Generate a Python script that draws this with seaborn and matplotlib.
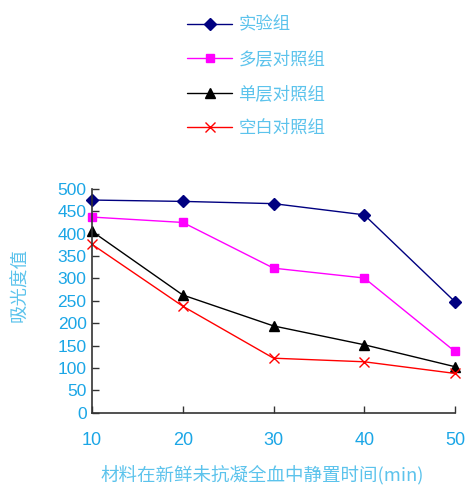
import matplotlib
matplotlib.use("Agg")
import matplotlib.pyplot as plt
import pandas as pd
import seaborn as sns

times = [10, 20, 30, 40, 50]
series_names = ["实验组", "多层对照组", "单层对照组", "空白对照组"]
experiment = [475, 472, 467, 442, 248]
multi_layer = [437, 425, 323, 301, 137]
single_layer = [405, 263, 194, 152, 103]
blank = [376, 238, 122, 114, 88]

colors = ["#000080", "#ff00ff", "#000000", "#ff0000"]
markers = ["D", "s", "^", "x"]
tick_blue = "#1ba6e6"
label_blue = "#5cc3ec"

sns.set_style("white")
plt.rcParams["font.family"] = ["Noto Sans CJK SC", "DejaVu Sans"]

fig = plt.figure(figsize=(4.7, 4.88), dpi=100)
ax = fig.add_axes([0.196, 0.154, 0.772, 0.459])

for name, vals, c, m in zip(series_names, [experiment, multi_layer, single_layer, blank], colors, markers):
    d = pd.DataFrame({"time": times, "value": vals})
    sns.lineplot(data=d, x="time", y="value", color=c, marker=m,
                 markersize=7 if m in ("^", "x") else 6,
                 markeredgecolor=c, markeredgewidth=1.0, linewidth=1.0,
                 label=name, ax=ax, clip_on=False)

ax.set_xlim(10, 50)
ax.set_ylim(0, 500)
ax.set_xticks(times)
ax.set_yticks(range(0, 501, 50))
ax.tick_params(axis="x", bottom=True, direction="in", length=5, width=1, pad=14,
               labelsize=13, labelcolor=tick_blue, color="#333333")
ax.tick_params(axis="y", left=True, direction="in", length=5, width=1, pad=4,
               labelsize=12.5, labelcolor=tick_blue, color="#333333")
for lab in ax.get_xticklabels() + ax.get_yticklabels():
    lab.set_family(["Liberation Sans", "DejaVu Sans"])
for s in ["top", "right"]:
    ax.spines[s].set_visible(False)
for s in ["left", "bottom"]:
    ax.spines[s].set_color("#333333")
    ax.spines[s].set_linewidth(1.2)

ax.set_xlabel("材料在新鲜未抗凝全血中静置时间(min)", color=label_blue, fontsize=13.3, labelpad=11)
ax.set_ylabel("吸光度值", color=label_blue, fontsize=13.3, labelpad=20)
ax.xaxis.label.set_x(0.468)
ax.yaxis.label.set_y(0.571)

handles, labels = ax.get_legend_handles_labels()
ax.get_legend().remove()
leg = fig.legend(handles, labels, loc="upper left", bbox_to_anchor=(0.365, 1.0),
                 frameon=False, fontsize=12.5, handlelength=2.6, labelspacing=0.95,
                 handletextpad=0.35)
for t in leg.get_texts():
    t.set_color(label_blue)

fig.savefig("out.png", dpi=100)
